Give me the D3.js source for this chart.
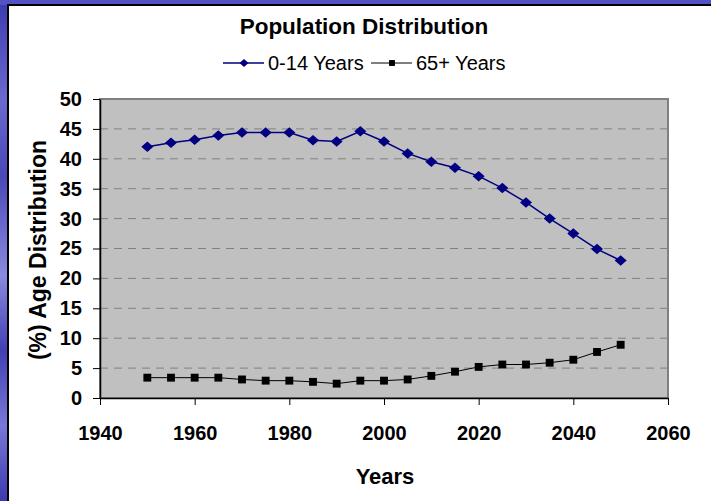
<!DOCTYPE html>
<html>
<head>
<meta charset="utf-8">
<script src="https://cdn.jsdelivr.net/npm/d3@7"></script>
<style>
  html, body { margin: 0; background: #ffffff; overflow: hidden; }
  svg { display: block; }
  text { font-family: Arial, "Liberation Sans", sans-serif; }
</style>
</head>
<body>
<svg id="chart"></svg>
<script>
// data
const years = [1950, 1955, 1960, 1965, 1970, 1975, 1980, 1985, 1990, 1995, 2000,
               2005, 2010, 2015, 2020, 2025, 2030, 2035, 2040, 2045, 2050];
const young = [42.0, 42.7, 43.2, 43.9, 44.4, 44.4, 44.4, 43.1, 42.9, 44.6, 42.9,
               40.9, 39.5, 38.5, 37.1, 35.1, 32.7, 30.0, 27.5, 24.9, 23.0];
const old = [3.4, 3.4, 3.4, 3.4, 3.1, 2.9, 2.9, 2.7, 2.4, 2.9, 2.9,
             3.1, 3.7, 4.4, 5.2, 5.6, 5.6, 5.9, 6.4, 7.7, 8.9];
const xTicks = [1940, 1960, 1980, 2000, 2020, 2040, 2060];
const yTicks = [0, 5, 10, 15, 20, 25, 30, 35, 40, 45, 50];
const seriesNames = ["0-14 Years", "65+ Years"];

const w = 711, h = 501;
const plotL = 100, plotR = 668, plotT = 99, plotB = 398;

const svg = d3.select("#chart").attr("width", w).attr("height", h);

// slide background peeking out on top / left
const defs = svg.append("defs");
const grad = defs.append("linearGradient").attr("id", "slide")
  .attr("x1", 0).attr("y1", 0).attr("x2", 0).attr("y2", 1);
[["0%", "#3b3bb0"], ["20%", "#6a6ad0"], ["35%", "#4848b8"], ["55%", "#8a8ae0"],
 ["70%", "#4040b4"], ["85%", "#7878d8"], ["100%", "#3a3aae"]]
  .forEach(s => grad.append("stop").attr("offset", s[0]).attr("stop-color", s[1]));
svg.append("rect").attr("x", 0).attr("y", 0).attr("width", w).attr("height", h)
  .attr("fill", "url(#slide)");
svg.append("rect").attr("x", 0).attr("y", 0).attr("width", w).attr("height", 5)
  .attr("fill", "#5252c4");
svg.append("rect").attr("x", 8).attr("y", 5).attr("width", w).attr("height", h)
  .attr("fill", "#ffffff").attr("stroke", "#000").attr("stroke-width", 2);

const x = d3.scaleLinear().domain([1940, 2060]).range([plotL, plotR]);
const y = d3.scaleLinear().domain([0, 50]).range([plotB, plotT]);

// plot area
svg.append("rect").attr("x", plotL).attr("y", plotT)
  .attr("width", plotR - plotL).attr("height", plotB - plotT)
  .attr("fill", "#c0c0c0").attr("stroke", "#808080").attr("stroke-width", 2);

svg.append("g").selectAll("line").data(yTicks.filter(d => d > 0 && d < 50)).join("line")
  .attr("x1", plotL).attr("x2", plotR)
  .attr("y1", d => y(d)).attr("y2", d => y(d))
  .attr("stroke", "#808080").attr("stroke-width", 1)
  .attr("stroke-dasharray", "8,6");

// axes
const xAxis = svg.append("g")
  .attr("transform", `translate(0,${plotB})`)
  .call(d3.axisBottom(x).tickValues(xTicks).tickFormat(d3.format("d"))
    .tickSizeInner(7).tickSizeOuter(0).tickPadding(21));
const yAxis = svg.append("g")
  .attr("transform", `translate(${plotL},0)`)
  .call(d3.axisLeft(y).tickValues(yTicks).tickSizeInner(7).tickSizeOuter(0).tickPadding(11));

[xAxis, yAxis].forEach(g => {
  g.select(".domain").attr("stroke", "#000").attr("stroke-width", 1.5);
  g.selectAll(".tick line").attr("stroke", "#000");
  g.selectAll(".tick text").attr("fill", "#000")
    .style("font-size", "20px").style("font-weight", "bold");
});

// lines
const line = d3.line().x((d, i) => x(years[i])).y(d => y(d));

svg.append("path").datum(young)
  .attr("fill", "none").attr("stroke", "#000080").attr("stroke-width", 1.5)
  .attr("d", line);
svg.append("path").datum(old)
  .attr("fill", "none").attr("stroke", "#000").attr("stroke-width", 1)
  .attr("d", line);

const diamond = d3.symbol().type(d3.symbolDiamond2).size(70);
const square = d3.symbol().type(d3.symbolSquare).size(62);

svg.append("g").selectAll("path").data(young).join("path")
  .attr("d", diamond)
  .attr("transform", (d, i) => `translate(${x(years[i])},${y(d)}) scale(1.15,1)`)
  .attr("fill", "#000080");
svg.append("g").selectAll("path").data(old).join("path")
  .attr("d", square)
  .attr("transform", (d, i) => `translate(${x(years[i])},${y(d)})`)
  .attr("fill", "#000");

// titles
svg.append("text")
  .attr("x", 364).attr("y", 34)
  .attr("text-anchor", "middle")
  .style("font-size", "22.5px").style("font-weight", "bold")
  .text("Population Distribution");

svg.append("text")
  .attr("x", 385).attr("y", 484)
  .attr("text-anchor", "middle")
  .style("font-size", "22px").style("font-weight", "bold")
  .text("Years");

svg.append("text")
  .attr("transform", "translate(46,250) rotate(-90)")
  .attr("text-anchor", "middle")
  .style("font-size", "23px").style("font-weight", "bold")
  .text("(%) Age Distribution");

// legend
const legend = svg.append("g");
const lg = [
  { x0: 223, color: "#000080", sym: diamond, sx: 1.15 },
  { x0: 371, color: "#000", sym: square, sx: 1 }
];
lg.forEach((d, i) => {
  legend.append("line").attr("x1", d.x0).attr("x2", d.x0 + 41)
    .attr("y1", 63).attr("y2", 63)
    .attr("stroke", d.color).attr("stroke-width", i === 0 ? 1.5 : 1);
  legend.append("path").attr("d", d.sym)
    .attr("transform", `translate(${d.x0 + 21},63) scale(${d.sx * 0.75},0.75)`)
    .attr("fill", d.color);
  legend.append("text")
    .attr("x", d.x0 + 45).attr("y", 70)
    .style("font-size", "20px")
    .text(seriesNames[i]);
});
</script>
</body>
</html>
